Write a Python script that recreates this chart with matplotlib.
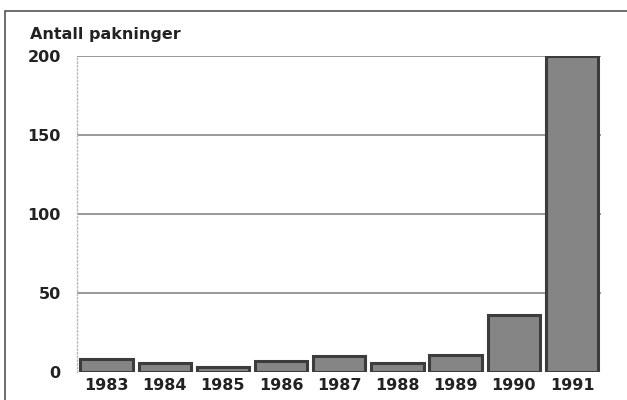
import matplotlib
matplotlib.use('Agg')
from matplotlib import pyplot as plt
from matplotlib.patches import Rectangle

years = ['1983', '1984', '1985', '1986', '1987', '1988', '1989', '1990', '1991']
packs = [8, 6, 3, 7, 10, 5.5, 11, 36, 200]
yticks = [0, 50, 100, 150, 200]

plt.rcParams['font.family'] = ['DejaVu Sans']
plt.rcParams['font.weight'] = 'bold'

fig = plt.figure(figsize=(6.27, 4.0), dpi=100)
ax = fig.add_axes([0.1236, 0.07, 0.835, 0.79])

# outer frame of the page
fig.patches.append(Rectangle((5 / 627, -0.1), 1.2, 1 - 11 / 400 + 0.1,
                             transform=fig.transFigure, fill=False,
                             edgecolor='#555555', linewidth=1.2))

x = list(range(len(years)))
ax.bar(x, packs, width=0.9, color='#858585', edgecolor='#3c3c3c',
       linewidth=2.2, zorder=3)

ax.set_xlim(-0.5, 8.5)
ax.set_ylim(0, 200)
ax.set_yticks(yticks)
ax.set_xticks(x)
ax.set_xticklabels(years, fontsize=11.5, fontweight='bold', color='#222222')
ax.set_yticklabels([str(v) for v in yticks], fontsize=11.5, fontweight='bold',
                   color='#222222')
ax.tick_params(axis='both', length=0)
ax.tick_params(axis='y', pad=12)
ax.tick_params(axis='x', pad=4)

for v in yticks[1:]:
    ax.axhline(v, color='#888888', linewidth=1.2, zorder=1)

for side in ['top', 'right', 'bottom']:
    ax.spines[side].set_visible(False)
ax.spines['left'].set_color('#bbbbbb')
ax.spines['left'].set_linestyle(':')
ax.spines['left'].set_linewidth(1)

fig.text(30 / 627, 1 - 34 / 400, 'Antall pakninger', fontsize=11.5,
         fontweight='bold', color='#222222', va='center', ha='left')

fig.savefig('out.png', dpi=100)
